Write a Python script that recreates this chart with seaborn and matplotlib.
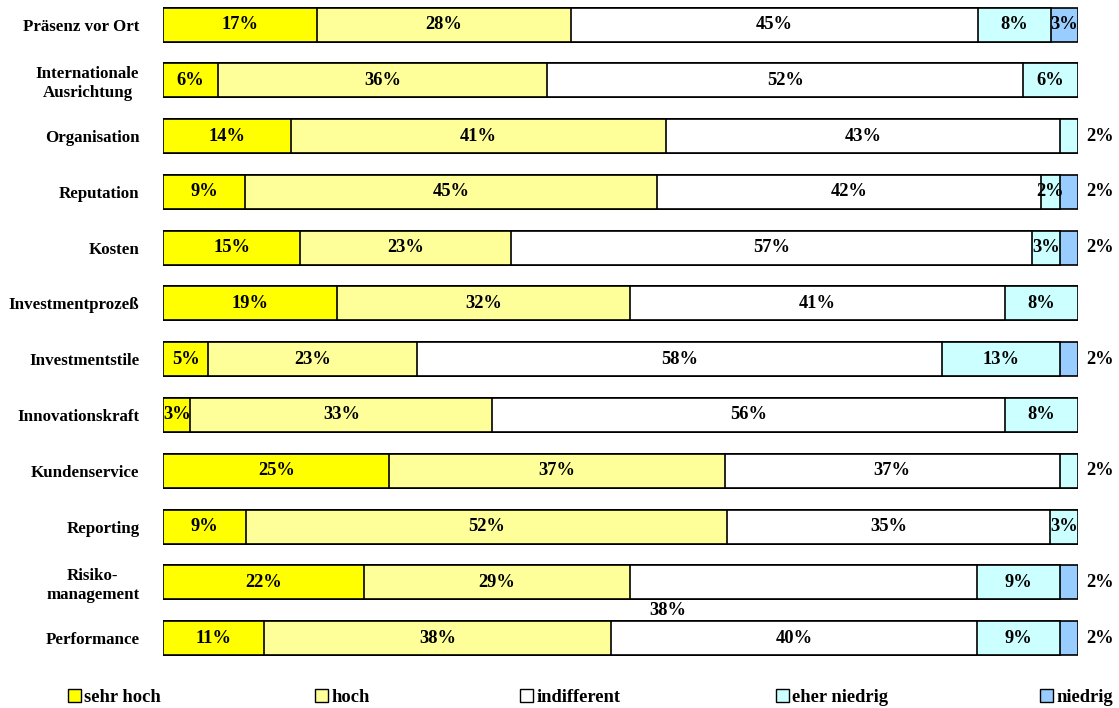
import numpy as np
import pandas as pd
import matplotlib
matplotlib.use("Agg")
import matplotlib.pyplot as plt
from matplotlib.patches import Patch
import seaborn as sns

categories = ["Präsenz vor Ort", "Internationale\nAusrichtung", "Organisation", "Reputation",
              "Kosten", "Investmentprozeß", "Investmentstile", "Innovationskraft",
              "Kundenservice", "Reporting", "Risiko-\nmanagement", "Performance"]
series_names = ["sehr hoch", "hoch", "indifferent", "eher niedrig", "niedrig"]
sehr_hoch    = [17, 6, 14, 9, 15, 19, 5, 3, 25, 9, 22, 11]
hoch         = [28, 36, 41, 45, 23, 32, 23, 33, 37, 52, 29, 38]
indifferent  = [45, 52, 43, 42, 57, 41, 58, 56, 37, 35, 38, 40]
eher_niedrig = [8, 6, 2, 2, 3, 8, 13, 8, 2, 3, 9, 9]
niedrig      = [3, 0, 0, 2, 2, 0, 2, 0, 0, 0, 2, 2]
colors = ["#FFFF00", "#FFFF99", "#FFFFFF", "#CCFFFF", "#99CCFF"]

sns.set_theme(style="white")
plt.rcParams["font.family"] = ["Liberation Serif", "DejaVu Serif"]
plt.rcParams["font.weight"] = "bold"
plt.rcParams["text.color"] = "black"
plt.rcParams["ytick.color"] = "black"
plt.rcParams["ytick.labelcolor"] = "black"

vals = np.array([sehr_hoch, hoch, indifferent, eher_niedrig, niedrig], dtype=float)
norm = vals / vals.sum(axis=0) * 100.0
cum = np.cumsum(norm, axis=0)

W, H = 1119, 708
fig = plt.figure(figsize=(W / 100, H / 100), dpi=100)
ax = fig.add_axes([163 / W, (H - 666) / H, (1078 - 163) / W, 666 / H])

for i in range(len(series_names) - 1, -1, -1):
    df = pd.DataFrame({"cat": categories, "val": cum[i]})
    sns.barplot(data=df, x="val", y="cat", orient="h", color=colors[i], saturation=1,
                edgecolor="black", linewidth=1.2, width=0.61, ax=ax)

fs_cat = 12.2
fs = 13.3
ax.set_xlim(0, 100)
ax.set_ylim(11.5, -0.44)
ax.set_xlabel("")
ax.set_ylabel("")
ax.set_xticks([])
for s in ax.spines.values():
    s.set_visible(False)
ax.tick_params(axis="y", length=0, pad=17)
for lbl in ax.get_yticklabels():
    lbl.set_fontweight("bold")
    lbl.set_fontsize(fs_cat)
    lbl.set_color("black")
    lbl.set_multialignment("center")

for r in range(len(categories)):
    nz = [i for i in range(5) if vals[i, r] > 0]
    last = nz[-1]
    for i in nz:
        v = int(vals[i, r])
        left = cum[i, r] - norm[i, r]
        center = left + norm[i, r] / 2
        txt = f"{v}%"
        if categories[r].startswith("Risiko") and i == 2:
            ax.text(55.2, 10.5, txt, ha="center", va="center", fontsize=fs,
                    fontweight="bold", color="black")
            continue
        if i == last and v <= 2:
            ax.text(102.4, r, txt, ha="center", va="center", fontsize=fs, fontweight="bold",
                    color="black", clip_on=False)
        else:
            ax.text(center, r, txt, ha="center", va="center", fontsize=fs, fontweight="bold",
                    color="black", clip_on=False)

legend_x = [68, 315, 520, 776, 1040]
for i, name in enumerate(series_names):
    h = Patch(facecolor=colors[i], edgecolor="black", linewidth=1.0)
    fig.legend(handles=[h], labels=[name], loc="center left",
               bbox_to_anchor=(legend_x[i] / W, 1 - 697 / H), frameon=False,
               borderpad=0, borderaxespad=0, handlelength=0.7, handleheight=0.7,
               handletextpad=0.18, labelcolor="black",
               prop={"weight": "bold", "size": fs})

fig.savefig("out.png", dpi=100)
